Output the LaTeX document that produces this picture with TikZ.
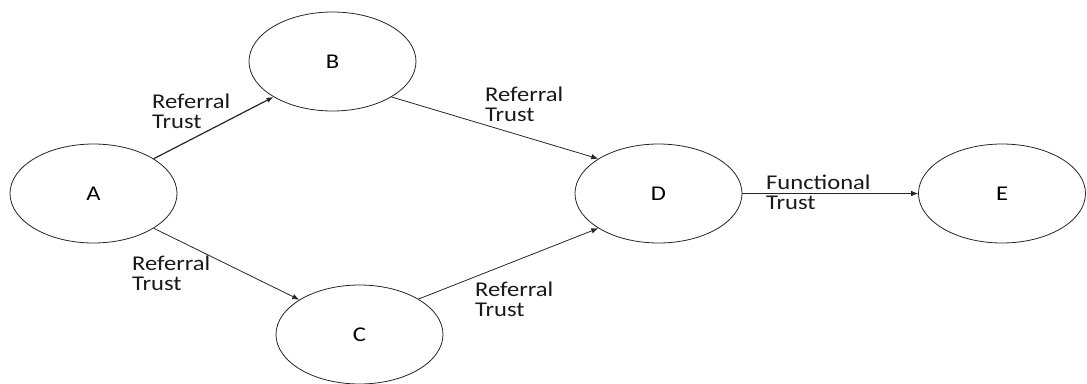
\documentclass[tikz,border=0pt]{standalone}
\usepackage{fontspec}
\setmainfont[FakeStretch=1.17]{Carlito}
\usetikzlibrary{shapes.geometric,arrows.meta}
\begin{document}
\begin{tikzpicture}[x=1pt,y=-1pt,
  state/.style={ellipse,draw=black!85,line width=0.8pt,minimum width=167pt,minimum height=99pt,inner sep=0pt,font=\fontsize{21pt}{24pt}\selectfont},
  conn/.style={draw=black!85,line width=0.8pt,-{Latex[length=7pt,width=5.5pt]}},
  lbl/.style={anchor=base west,inner sep=0pt,align=left,text=black!90,font=\fontsize{21pt}{20.5pt}\selectfont}]
\useasboundingbox (0,0) rectangle (1087,383);
\node[state] (A) at (93.5,193.5) {A};
\node[state] (B) at (332.5,61.5) {B};
\node[state] (C) at (359.5,334.5) {C};
\node[state] (D) at (658.5,193.5) {D};
\node[state] (E) at (1002,193.5) {E};
\draw[conn,line width=1.2pt] (A.30.8) -- (B.211.5);
\draw[conn] (B.329) -- (D.150);
\draw[conn] (A.330.7) -- (C.150);
\draw[conn] (C.31.2) -- (D.210.4);
\draw[conn] (D.east) -- (E.west);
\node[lbl] (l1) at (152,128.5) {Referral\\Trust};
\node[lbl] (l2) at (485,121.5) {Referral\\Trust};
\node[lbl] (l3) at (132,290.5) {Referral\\Trust};
\node[lbl] (l4) at (475,316.5) {Referral\\Trust};
\node[lbl] (l5) at (766,209.5) {Functional\\Trust};
\end{tikzpicture}
\end{document}
